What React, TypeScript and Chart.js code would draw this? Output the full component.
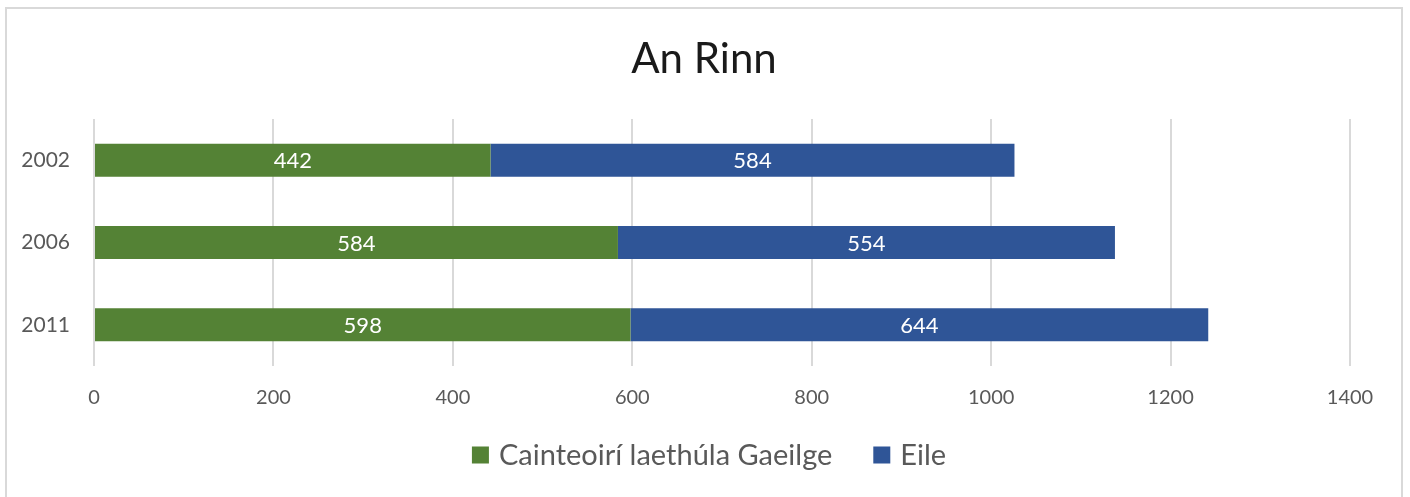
import React, { useEffect, useRef } from "react";
import { Chart, registerables } from "chart.js";

Chart.register(...registerables);

const title = "An Rinn";
const categories = ["2002", "2006", "2011"];
const seriesNames = ["Cainteoirí laethúla Gaeilge", "Eile"];
const dailySpeakers = [442, 584, 598];
const others = [584, 554, 644];
const xTicks = [0, 200, 400, 600, 800, 1000, 1200, 1400];

const FONT = "Lato, 'Open Sans', sans-serif";
const GREEN = "#548235";
const BLUE = "#2F5597";
const TEXT = "#595959";

const dataLabels = {
  id: "dataLabels",
  afterDatasetsDraw(chart: any) {
    const ctx = chart.ctx;
    ctx.save();
    ctx.fillStyle = "#ffffff";
    ctx.font = `22px ${FONT}`;
    ctx.textAlign = "center";
    ctx.textBaseline = "middle";
    chart.data.datasets.forEach((ds: any, i: number) => {
      const meta = chart.getDatasetMeta(i);
      meta.data.forEach((bar: any, j: number) => {
        const p = bar.getProps(["x", "y", "base"], true);
        ctx.fillText(String(ds.data[j]), (p.x + p.base) / 2, p.y + 1);
      });
    });
    ctx.restore();
  },
};

const titleAndLegend = {
  id: "titleAndLegend",
  afterDraw(chart: any) {
    const ctx = chart.ctx;
    ctx.save();
    // title
    ctx.font = `42px ${FONT}`;
    ctx.fillStyle = "#1a1a1a";
    ctx.textAlign = "center";
    ctx.textBaseline = "middle";
    ctx.fillText(title, 704, 59);
    // legend
    ctx.font = `29px ${FONT}`;
    const box = 17;
    const gap = 10;
    const itemGap = 41;
    const items = chart.data.datasets.map((ds: any) => ({
      label: ds.label,
      color: ds.backgroundColor,
      w: box + gap + ctx.measureText(ds.label).width,
    }));
    const total = items.reduce((a: number, it: any) => a + it.w, 0) + itemGap * (items.length - 1);
    let x = 709 - total / 2;
    const y = 455;
    ctx.textAlign = "left";
    items.forEach((it: any) => {
      ctx.fillStyle = it.color;
      ctx.fillRect(x, y - box / 2, box, box);
      ctx.fillStyle = TEXT;
      ctx.fillText(it.label, x + box + gap, y + 1);
      x += it.w + itemGap;
    });
    ctx.restore();
  },
};

export default function App() {
  const ref = useRef<HTMLCanvasElement>(null);
  useEffect(() => {
    if (!ref.current) return;
    const chart = new Chart(ref.current, {
      type: "bar",
      data: {
        labels: categories,
        datasets: [
          { label: seriesNames[0], data: dailySpeakers, backgroundColor: GREEN, barPercentage: 0.8, categoryPercentage: 0.5 },
          { label: seriesNames[1], data: others, backgroundColor: BLUE, barPercentage: 0.8, categoryPercentage: 0.5 },
        ],
      },
      options: {
        indexAxis: "y",
        animation: false,
        responsive: false,
        maintainAspectRatio: false,
        layout: { padding: { left: 0, right: 60, top: 119, bottom: 0 } },
        plugins: {
          title: { display: false },
          legend: { display: false },
          tooltip: { enabled: false },
        },
        scales: {
          x: {
            stacked: true,
            min: 0,
            max: 1400,
            afterBuildTicks: (s: any) => {
              s.ticks = xTicks.map((v) => ({ value: v }));
            },
            afterFit: (s: any) => {
              s.height = 131;
            },
            grid: { color: "#d9d9d9", lineWidth: 2, drawTicks: false },
            border: { display: false },
            ticks: {
              color: TEXT,
              font: { family: FONT, size: 20 },
              padding: 20,
              maxRotation: 0,
              callback: (v: any) => String(v),
            },
          },
          y: {
            stacked: true,
            grid: { display: false, drawTicks: false },
            border: { display: false },
            ticks: { color: TEXT, font: { family: FONT, size: 21 }, padding: 24 },
            afterFit: (s: any) => {
              s.width = 94;
            },
          },
        },
      },
      plugins: [dataLabels, titleAndLegend],
    });
    return () => chart.destroy();
  }, []);
  return (
    <div style={{ position: "absolute", left: 0, top: 0, width: 1410, height: 497, background: "#fff" }}>
      <div
        style={{
          position: "absolute",
          left: 5,
          top: 7,
          width: 1398,
          height: 500,
          border: "1px solid #d9d9d9",
          borderWidth: "2px 2px 0 2px",
          boxSizing: "border-box",
        }}
      />
      <canvas ref={ref} width={1410} height={497} style={{ position: "absolute", left: 0, top: 0 }} />
    </div>
  );
}
